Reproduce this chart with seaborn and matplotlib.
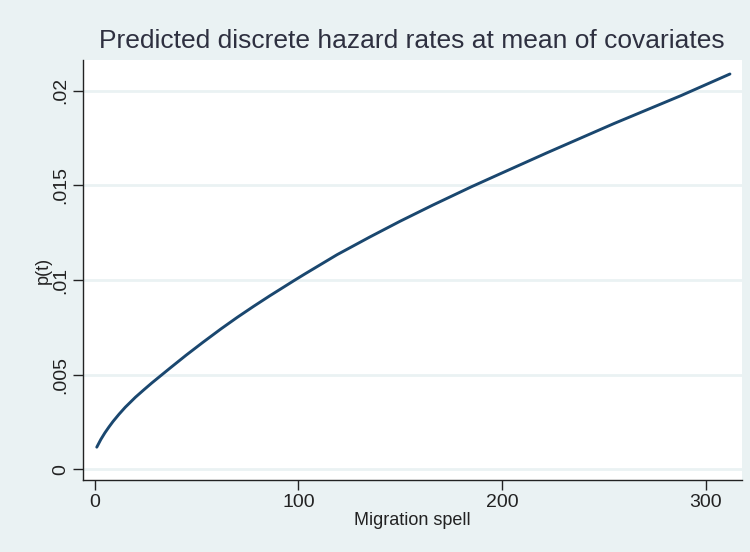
import matplotlib
matplotlib.use("Agg")
import matplotlib.pyplot as plt
import seaborn as sns
import pandas as pd

# Data
spell = [1, 3, 5, 7, 9, 12, 15, 20, 24, 28, 37, 45, 53, 62, 70, 78, 86, 98, 103, 119, 135,
         150, 166, 185, 199, 222, 255, 288, 312]
hazard = [0.00117, 0.00158, 0.00193, 0.00224, 0.00253, 0.00292, 0.00328, 0.00381, 0.00419,
          0.00456, 0.00535, 0.00604, 0.00670, 0.00742, 0.00803, 0.00861, 0.00917, 0.00998,
          0.01031, 0.01134, 0.01227, 0.01311, 0.01396, 0.01493, 0.01561, 0.01672, 0.01827,
          0.01975, 0.02089]
y_ticks = [0, 0.005, 0.01, 0.015, 0.02]
y_tick_labels = ["0", ".005", ".01", ".015", ".02"]
x_ticks = [0, 100, 200, 300]
x_tick_labels = ["0", "100", "200", "300"]
title = "Predicted discrete hazard rates at mean of covariates"
xlabel = "Migration spell"
ylabel = "p(t)"

sns.set_style("white")
plt.rcParams["font.family"] = ["Liberation Sans", "DejaVu Sans"]

bg = "#EAF2F3"
fig = plt.figure(figsize=(7.5, 5.52), dpi=100, facecolor=bg)
ax = fig.add_axes([0.1103, 0.1304, 0.989 - 0.1103, 0.8913 - 0.1304])
ax.set_facecolor("white")

df = pd.DataFrame({"spell": spell, "hazard": hazard})
sns.lineplot(data=df, x="spell", y="hazard", ax=ax, color="#1A476F", linewidth=2.1)

ax.set_xlim(-5.9, 317.8)
ax.set_ylim(-0.000566, 0.02163)

ax.set_yticks(y_ticks)
ax.set_yticklabels(y_tick_labels, rotation=90, va="center", fontsize=14, color="#222222")
ax.set_xticks(x_ticks)
ax.set_xticklabels(x_tick_labels, fontsize=14, color="#222222")

ax.grid(axis="y", color="#EAF2F3", linewidth=2)
ax.grid(axis="x", visible=False)
ax.set_axisbelow(True)

for s in ["top", "right"]:
    ax.spines[s].set_visible(False)
for s in ["left", "bottom"]:
    ax.spines[s].set_color("#222222")
    ax.spines[s].set_linewidth(1.0)

ax.tick_params(axis="both", direction="out", length=7, width=1, color="#222222",
               left=True, bottom=True, pad=3)

ax.set_xlabel(xlabel, fontsize=13, color="#222222", labelpad=1)
ax.set_ylabel(ylabel, fontsize=13, color="#222222", labelpad=0)

fig.text(0.5493, 0.9257, title, ha="center", va="center", fontsize=19, color="#2E3040")

fig.savefig("out.png", dpi=100, facecolor=bg)
